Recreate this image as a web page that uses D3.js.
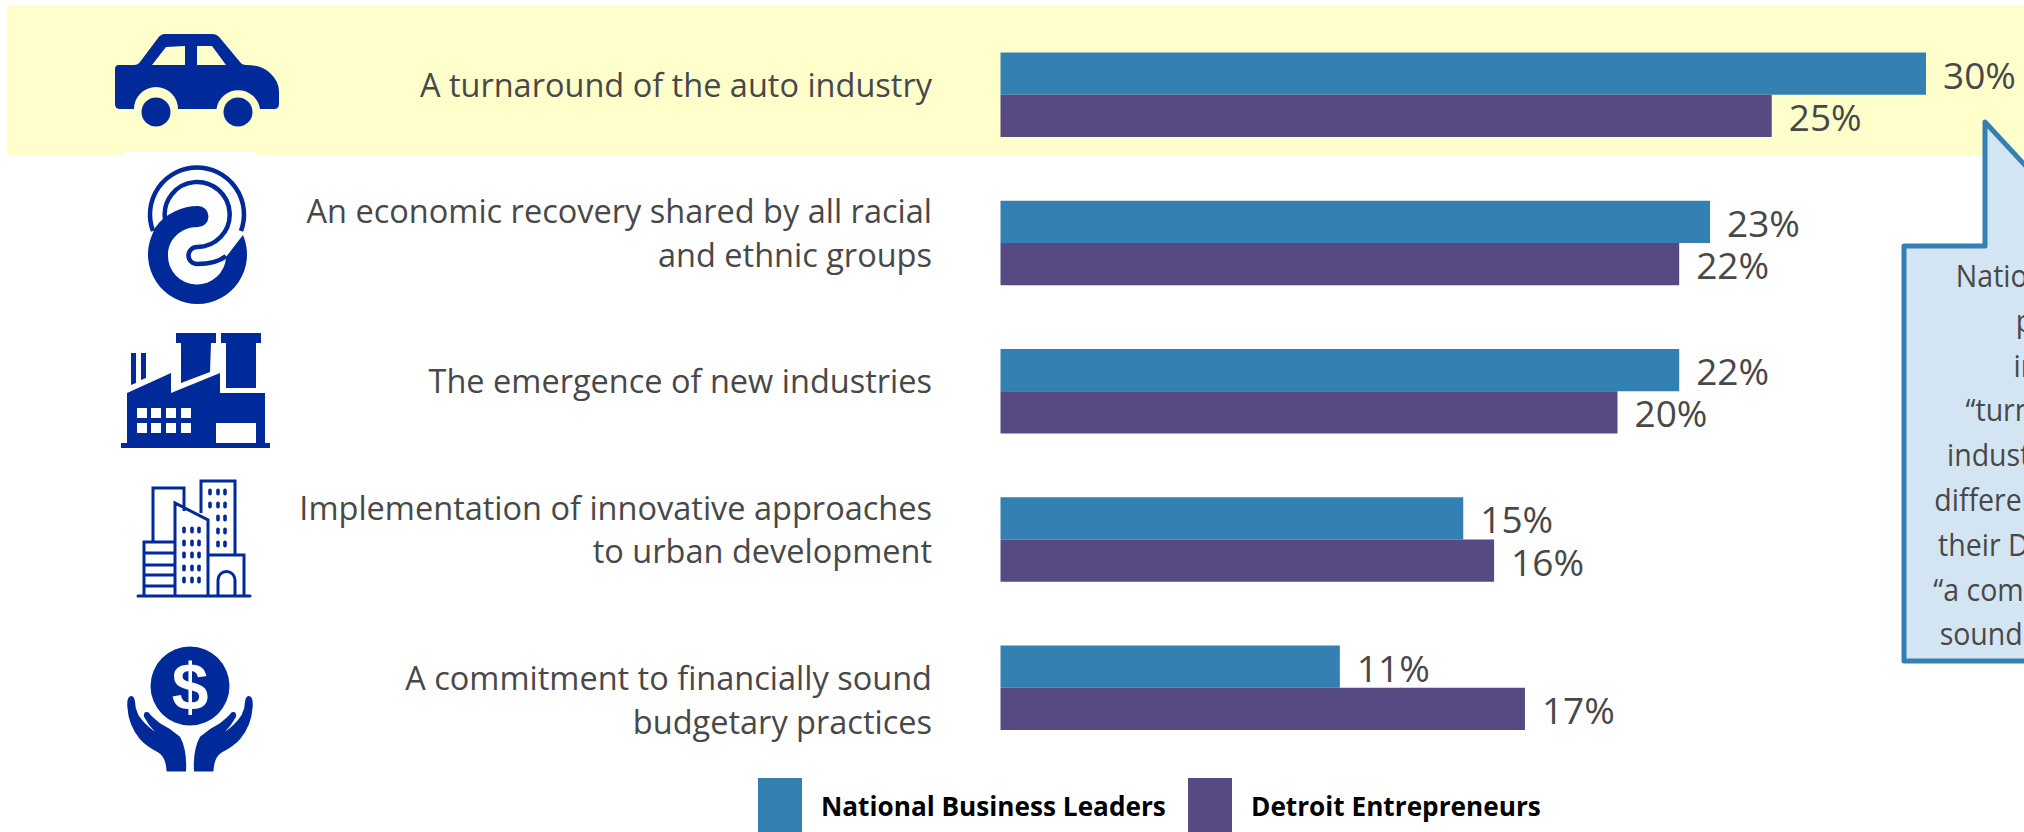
<!DOCTYPE html>
<html>
<head>
<meta charset="utf-8">
<title>Economic drivers</title>
<script src="https://cdn.jsdelivr.net/npm/d3@7/dist/d3.min.js"></script>
<style>
html,body{margin:0;padding:0;background:#fff;overflow:hidden}
svg{display:block}
text{font-family:"Open Sans",sans-serif}
</style>
</head>
<body>
<script>
// Chart content
const categories = [
  "A turnaround of the auto industry",
  "An economic recovery shared by all racial and ethnic groups",
  "The emergence of new industries",
  "Implementation of innovative approaches to urban development",
  "A commitment to financially sound budgetary practices"
];
const categoryLines = [
  ["A turnaround of the auto industry"],
  ["An economic recovery shared by all racial", "and ethnic groups"],
  ["The emergence of new industries"],
  ["Implementation of innovative approaches", "to urban development"],
  ["A commitment to financially sound", "budgetary practices"]
];
const seriesNames = ["National Business Leaders", "Detroit Entrepreneurs"];
const nationalLeaders = [30, 23, 22, 15, 11];
const detroitEntrepreneurs = [25, 22, 20, 16, 17];
const calloutLines = [
  "National leaders are",
  "place more",
  "importance",
  "“turnaround of the",
  "industry.” The biggest",
  "difference in relation to",
  "their Detroit peers was",
  "“a commitment to fiscal",
  "soundness in budgets”"
];

const W = 2024, H = 832;
const BLUE = "#3580b2", PURPLE = "#574a82", ICON = "#002a9a", INK = "#484848", BAND = "#ffffcc";

const svg = d3.select("body").append("svg").attr("width", W).attr("height", H);

// Highlight behind the first row
svg.append("rect").attr("x", 7).attr("y", 5).attr("width", W + 20).attr("height", 150).attr("rx", 3).attr("fill", BAND);
svg.append("rect").attr("x", 124).attr("y", 151).attr("width", 132).attr("height", 6).attr("fill", "#fff");

// Scales
const x = d3.scaleLinear().domain([0, 30]).range([1000.5, 1926]);
const y = d3.scaleBand().domain(categories).range([52.5, 730]).paddingInner(0.43).paddingOuter(0);
const ySeries = d3.scaleBand().domain(seriesNames).range([0, y.bandwidth()]);
const colour = d3.scaleOrdinal().domain(seriesNames).range([BLUE, PURPLE]);

const rows = categories.map((c, i) => ({
  category: c,
  lines: categoryLines[i],
  index: i,
  values: [
    { series: seriesNames[0], value: nationalLeaders[i] },
    { series: seriesNames[1], value: detroitEntrepreneurs[i] }
  ]
}));

const row = svg.selectAll("g.row").data(rows).join("g").attr("class", "row")
  .attr("transform", d => `translate(0,${y(d.category)})`);

// Bars
row.selectAll("rect").data(d => d.values).join("rect")
  .attr("x", x(0))
  .attr("y", d => ySeries(d.series))
  .attr("width", d => x(d.value) - x(0))
  .attr("height", ySeries.bandwidth())
  .attr("fill", d => colour(d.series));

// Value labels
row.selectAll("text.value").data(d => d.values).join("text").attr("class", "value")
  .attr("x", d => x(d.value) + 17)
  .attr("y", d => ySeries(d.series) + ySeries.bandwidth() / 2 + 15)
  .attr("font-size", 37)
  .attr("fill", INK)
  .text(d => d.value + "%");

// Category labels, right aligned; the last row sits a little below its bars
const LINE = 44;
row.each(function (d) {
  const g = d3.select(this);
  const mid = y.bandwidth() / 2 + (d.index === 4 ? 22 : 0);
  d.lines.forEach((t, i) => {
    g.append("text")
      .attr("x", 932)
      .attr("y", mid + 2 + (i - (d.lines.length - 1) / 2) * LINE)
      .attr("text-anchor", "end")
      .attr("font-size", 32.5)
      .attr("fill", INK)
      .text(t);
  });
});

// Legend
const legendX = [758, 1188];
seriesNames.forEach((s, i) => {
  svg.append("rect").attr("x", legendX[i]).attr("y", 778).attr("width", 44).attr("height", 60).attr("fill", colour(s));
  svg.append("text")
    .attr("x", legendX[i] + 63).attr("y", 816)
    .attr("font-size", 26.2).attr("font-weight", 700).attr("fill", "#000")
    .text(s);
});

// Callout running off the right-hand side
svg.append("path")
  .attr("d", "M1904,246 L1985,246 L1985,122 L2100,246 L2200,246 L2200,661 L1904,661 Z")
  .attr("fill", "#d3e5f2").attr("stroke", BLUE).attr("stroke-width", 5).attr("stroke-linejoin", "round");
svg.append("g").selectAll("text").data(calloutLines).join("text")
  .attr("transform", (d, i) => `translate(2090,${287 + i * 44.8}) scale(0.92,1)`)
  .attr("text-anchor", "middle")
  .attr("font-size", 31)
  .attr("fill", INK)
  .text(d => d);

// Icons
const icons = svg.append("g").attr("fill", ICON);

// Car
icons.append("path").attr("fill-rule", "evenodd").attr("d",
  "M119,65 L134,65 Q138,65 140,62 L158,38 Q161,34 165,34 L212,34 Q217,34 220,38 L240,62 Q242,65 246,65 Q262,65 270,73 Q279,81 279,92 L279,104 Q279,109 274,109 L260,109 A22,22 0 0 0 216.5,109 L178,109 A22,22 0 0 0 134,109 L120,109 Q115,109 115,104 L115,69 Q115,65 119,65 Z " +
  "M152,65 L166,47 L185,46 L185,65 Z M197,46 L212,46 L226,65 L197,65 Z");
icons.append("circle").attr("cx", 156).attr("cy", 112).attr("r", 14.5);
icons.append("circle").attr("cx", 238).attr("cy", 112).attr("r", 14.5);

// Interlinked rings
icons.append("path").attr("d",
  "M155,228 C165,213 183,206 198,206 A10.5,10.5 0 0 1 198,227 C180,227 168,240 168,255 A29,28.5 0 0 0 226,257 L243,235 A49.5,49.5 0 1 1 152,235 Z");
icons.append("path").attr("fill", "none").attr("stroke", ICON).attr("stroke-width", 4.5).attr("d",
  "M153,231 A47,47 0 1 1 241,231");
icons.append("path").attr("fill", "none").attr("stroke", ICON).attr("stroke-width", 4.5).attr("d",
  "M165,219 A32.5,32.5 0 1 1 197,247 A8.5,8.5 0 0 0 197,264 C208,264 219,262 226,256");

// Factory
icons.append("path").attr("fill-rule", "evenodd").attr("d",
  "M127,393 L171,373 L171,393 L220,373 L220,393 L265,393 L265,443 L270,443 L270,448 L121,448 L121,443 L127,443 Z " +
  "M137,408 h10 v10 h-10 Z M151,408 h10 v10 h-10 Z M166,408 h10 v10 h-10 Z M181,408 h10 v10 h-10 Z " +
  "M137,423 h10 v10 h-10 Z M151,423 h10 v10 h-10 Z M166,423 h10 v10 h-10 Z M181,423 h10 v10 h-10 Z " +
  "M216,423 h40 v20 h-40 Z");
icons.append("path").attr("d",
  "M176,333 h40 v10 h-5 L210,372 L181,383 L181,343 h-5 Z M221,333 h40 v10 h-5 L256,388 L226,388 L226,343 h-5 Z " +
  "M131,353 h5 v30 l-5,2 Z M141,353 h5 v25 l-5,2 Z");

// City blocks
const city = svg.append("g").attr("fill", "none").attr("stroke", ICON).attr("stroke-width", 3);
city.append("path").attr("stroke-linecap", "round").attr("d", "M138,596 L250,596");
city.append("path").attr("d",
  "M153,541 L153,488 L184,488 L184,511 M201,513 L201,481 L235,481 L235,555 " +
  "M175,596 L175,503 L208,520 L208,596 M144,596 L144,542 L175,542 " +
  "M144,553 L175,553 M144,565 L175,565 M144,575 L175,575 M144,586 L175,586 " +
  "M208,555 L244,555 L244,596 M218,596 L218,580 A8.5,8.5 0 0 1 235,580 L235,596");
const dot = (cx, cy) => icons.append("rect").attr("x", cx - 1.8).attr("y", cy - 3.5).attr("width", 3.6).attr("height", 7).attr("rx", 1.8);
[184, 192, 199].forEach(cx => [530, 543, 555, 568, 580].forEach(cy => dot(cx, cy)));
[210, 218, 225].forEach(cx => [492, 505].forEach(cy => dot(cx, cy)));
[218, 225].forEach(cx => [518, 531, 544].forEach(cy => dot(cx, cy)));

// Hands holding a coin
icons.append("circle").attr("cx", 190).attr("cy", 686).attr("r", 39.5);
svg.append("text").attr("x", 190).attr("y", 710).attr("text-anchor", "middle")
  .attr("font-size", 66).attr("font-weight", 700).attr("fill", "#fff")
  .style("font-family", "'Liberation Sans',sans-serif").text("$");
const hand = "M153,1128 Q140,1130 142,1160 Q145,1215 180,1258 Q200,1280 235,1298 Q258,1312 260,1355 L318,1355 Q322,1290 300,1250 Q270,1225 240,1210 Q215,1190 205,1177 Q190,1172 192,1190 Q205,1215 225,1235 Q195,1215 175,1185 Q165,1165 165,1145 Q163,1128 153,1128 Z";
icons.append("path").attr("transform", "translate(80,320) scale(0.3333)").attr("d", hand);
icons.append("path").attr("transform", "translate(300,320) scale(-0.3333,0.3333)").attr("d", hand);
</script>
</body>
</html>
